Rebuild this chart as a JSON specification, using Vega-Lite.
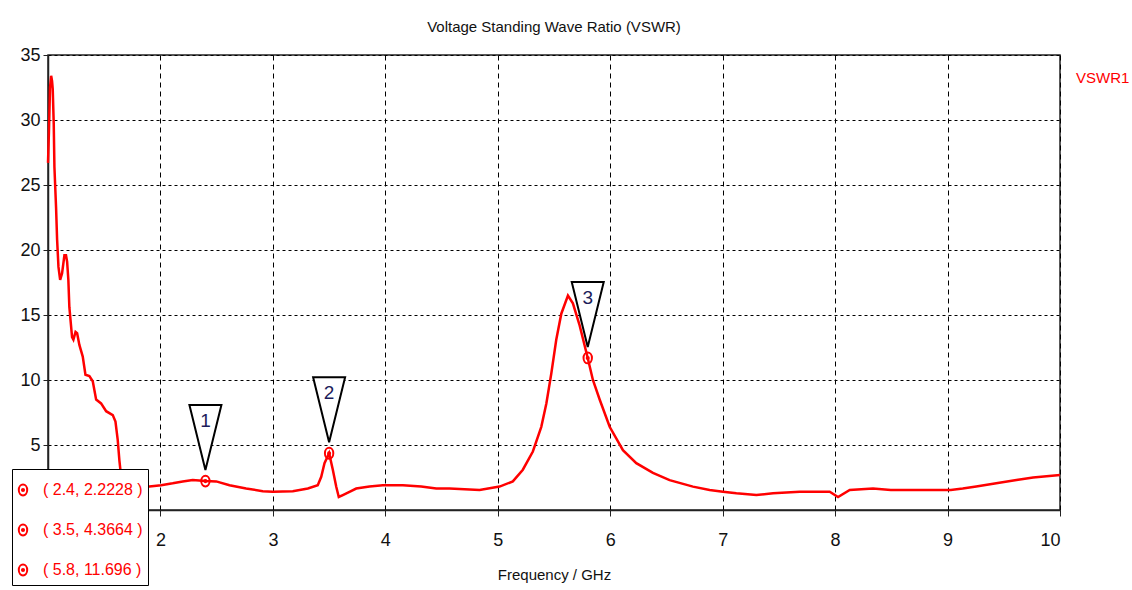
{
  "$schema": "https://vega.github.io/schema/vega-lite/v6.json",
  "width": 1012,
  "height": 455,
  "autosize": {"type": "none"},
  "padding": {"left": 48, "top": 55, "right": 72, "bottom": 80},
  "background": "white",
  "title": {
    "text": "Voltage Standing Wave Ratio (VSWR)",
    "anchor": "middle",
    "font": "Liberation Sans",
    "fontSize": 15,
    "fontWeight": "normal",
    "color": "#111111",
    "offset": 11
  },
  "config": {
    "view": {"stroke": "#222222", "strokeWidth": 1.5},
    "axis": {
      "labelFont": "Liberation Sans",
      "labelFontSize": 18,
      "labelColor": "#111111",
      "titleFont": "Liberation Sans",
      "titleFontSize": 15,
      "titleFontWeight": "normal",
      "titleColor": "#111111",
      "domainColor": "#222222",
      "domainWidth": 1.5,
      "tickColor": "#222222",
      "gridColor": "#000000",
      "gridOpacity": 1,
      "gridWidth": 1
    }
  },
  "datasets": {
    "curve": [
      {"f": 1.000, "v": 26.7}, {"f": 1.008, "v": 29.0}, {"f": 1.018, "v": 32.5}, {"f": 1.028, "v": 33.4},
      {"f": 1.036, "v": 33.0}, {"f": 1.042, "v": 32.4}, {"f": 1.051, "v": 29.7}, {"f": 1.057, "v": 26.4},
      {"f": 1.072, "v": 23.2}, {"f": 1.081, "v": 20.8}, {"f": 1.093, "v": 18.7}, {"f": 1.108, "v": 17.7},
      {"f": 1.125, "v": 18.2}, {"f": 1.146, "v": 19.6}, {"f": 1.160, "v": 19.6}, {"f": 1.170, "v": 19.1},
      {"f": 1.181, "v": 17.7}, {"f": 1.190, "v": 15.6}, {"f": 1.214, "v": 13.3}, {"f": 1.226, "v": 13.1},
      {"f": 1.245, "v": 13.7}, {"f": 1.259, "v": 13.6}, {"f": 1.279, "v": 12.7}, {"f": 1.309, "v": 11.8},
      {"f": 1.333, "v": 10.4}, {"f": 1.368, "v": 10.3}, {"f": 1.398, "v": 9.9}, {"f": 1.428, "v": 8.5},
      {"f": 1.472, "v": 8.2}, {"f": 1.517, "v": 7.6}, {"f": 1.576, "v": 7.3}, {"f": 1.600, "v": 6.8},
      {"f": 1.620, "v": 5.4}, {"f": 1.635, "v": 3.8}, {"f": 1.650, "v": 2.6}, {"f": 1.680, "v": 1.9},
      {"f": 1.750, "v": 1.75}, {"f": 1.850, "v": 1.8}, {"f": 1.902, "v": 1.8}, {"f": 2.006, "v": 1.9},
      {"f": 2.109, "v": 2.05}, {"f": 2.198, "v": 2.2}, {"f": 2.287, "v": 2.3}, {"f": 2.4, "v": 2.2228},
      {"f": 2.496, "v": 2.2}, {"f": 2.614, "v": 1.9}, {"f": 2.762, "v": 1.65}, {"f": 2.910, "v": 1.45},
      {"f": 2.999, "v": 1.4}, {"f": 3.177, "v": 1.45}, {"f": 3.311, "v": 1.65}, {"f": 3.399, "v": 1.9},
      {"f": 3.430, "v": 2.55}, {"f": 3.459, "v": 3.6}, {"f": 3.5, "v": 4.3664}, {"f": 3.533, "v": 3.1},
      {"f": 3.563, "v": 1.8}, {"f": 3.586, "v": 1.0}, {"f": 3.622, "v": 1.15}, {"f": 3.681, "v": 1.4},
      {"f": 3.741, "v": 1.65}, {"f": 3.859, "v": 1.8}, {"f": 3.978, "v": 1.9}, {"f": 4.156, "v": 1.9},
      {"f": 4.319, "v": 1.8}, {"f": 4.453, "v": 1.65}, {"f": 4.571, "v": 1.65}, {"f": 4.838, "v": 1.54},
      {"f": 5.016, "v": 1.8}, {"f": 5.134, "v": 2.2}, {"f": 5.223, "v": 3.1}, {"f": 5.312, "v": 4.5},
      {"f": 5.387, "v": 6.4}, {"f": 5.432, "v": 8.2}, {"f": 5.476, "v": 10.5}, {"f": 5.520, "v": 13.1},
      {"f": 5.565, "v": 15.1}, {"f": 5.624, "v": 16.5}, {"f": 5.668, "v": 15.9}, {"f": 5.728, "v": 14.2},
      {"f": 5.8, "v": 11.696}, {"f": 5.846, "v": 10.0}, {"f": 5.906, "v": 8.5}, {"f": 5.995, "v": 6.4},
      {"f": 6.113, "v": 4.6}, {"f": 6.232, "v": 3.6}, {"f": 6.380, "v": 2.85}, {"f": 6.528, "v": 2.3},
      {"f": 6.736, "v": 1.8}, {"f": 6.884, "v": 1.54}, {"f": 7.003, "v": 1.4}, {"f": 7.122, "v": 1.28},
      {"f": 7.300, "v": 1.15}, {"f": 7.448, "v": 1.28}, {"f": 7.685, "v": 1.4}, {"f": 7.952, "v": 1.4},
      {"f": 8.026, "v": 1.0}, {"f": 8.130, "v": 1.54}, {"f": 8.337, "v": 1.65}, {"f": 8.495, "v": 1.54},
      {"f": 9.029, "v": 1.54}, {"f": 9.135, "v": 1.65}, {"f": 9.255, "v": 1.8}, {"f": 9.433, "v": 2.05},
      {"f": 9.613, "v": 2.3}, {"f": 9.761, "v": 2.5}, {"f": 10.0, "v": 2.7}
    ],
    "markers": [
      {"f": 2.4, "v": 2.2228, "id": "1", "label": "( 2.4, 2.2228 )"},
      {"f": 3.5, "v": 4.3664, "id": "2", "label": "( 3.5, 4.3664 )"},
      {"f": 5.8, "v": 11.696, "id": "3", "label": "( 5.8, 11.696 )"}
    ]
  },
  "layer": [
    {
      "data": {"name": "curve"},
      "mark": {"type": "line", "strokeWidth": 2.5, "interpolate": "linear"},
      "encoding": {
        "x": {
          "field": "f", "type": "quantitative",
          "scale": {"domain": [1, 10], "nice": false, "zero": false},
          "axis": {
            "values": [2, 3, 4, 5, 6, 7, 8, 9, 10],
            "format": "d",
            "grid": true,
            "gridDash": [5, 4],
            "tickSize": 6,
            "labelPadding": 15,
            "title": "Frequency / GHz",
            "titlePadding": 18
          }
        },
        "y": {
          "field": "v", "type": "quantitative",
          "scale": {"domain": [0, 35], "nice": false},
          "axis": {
            "values": [5, 10, 15, 20, 25, 30, 35],
            "format": "d",
            "grid": true,
            "gridDash": [3, 3],
            "tickSize": 5,
            "labelPadding": 3,
            "title": null
          }
        },
        "color": {
          "datum": "VSWR1", "type": "nominal",
          "scale": {"domain": ["VSWR1"], "range": ["#ff0000"]},
          "legend": {
            "orient": "none", "legendX": 1013, "legendY": 15, "title": null,
            "symbolOpacity": 0, "symbolSize": 0, "labelOffset": 0, "padding": 0,
            "labelColor": "#ff0000",
            "labelFont": "Liberation Sans",
            "labelFontSize": 15
          }
        }
      }
    },
    {
      "data": {"name": "markers"},
      "mark": {"type": "point", "filled": false, "stroke": "#ff0000", "strokeWidth": 2, "size": 900, "opacity": 1},
      "encoding": {
        "x": {"field": "f", "type": "quantitative"},
        "y": {"field": "v", "type": "quantitative"},
        "shape": {
          "field": "label", "type": "nominal",
          "scale": {"range": [
            "M -0.28 0 A 0.28 0.36 0 1 0 0.28 0 A 0.28 0.36 0 1 0 -0.28 0 Z M -0.07 0 A 0.07 0.07 0 1 0 0.07 0 A 0.07 0.07 0 1 0 -0.07 0 Z",
            "M -0.28 0 A 0.28 0.36 0 1 0 0.28 0 A 0.28 0.36 0 1 0 -0.28 0 Z M -0.07 0 A 0.07 0.07 0 1 0 0.07 0 A 0.07 0.07 0 1 0 -0.07 0 Z",
            "M -0.28 0 A 0.28 0.36 0 1 0 0.28 0 A 0.28 0.36 0 1 0 -0.28 0 Z M -0.07 0 A 0.07 0.07 0 1 0 0.07 0 A 0.07 0.07 0 1 0 -0.07 0 Z"
          ]},
          "legend": {
            "orient": "none", "legendX": -36, "legendY": 414, "title": null,
            "strokeColor": "#000000", "fillColor": "#ffffff", "padding": 5,
            "symbolSize": 900, "symbolStrokeColor": "#ff0000", "symbolFillColor": "transparent",
            "symbolStrokeWidth": 2, "symbolOffset": -10, "labelOffset": 4, "rowPadding": 14,
            "labelColor": "#ff0000",
            "labelFont": "Liberation Sans",
            "labelFontSize": 16,
            "encode": {"legend": {"update": {"strokeWidth": {"value": 2}}}}
          }
        }
      }
    },
    {
      "data": {"name": "markers"},
      "mark": {
        "type": "point", "filled": true, "fill": "#ffffff", "fillOpacity": 1,
        "stroke": "#000000", "strokeWidth": 2, "strokeOpacity": 1, "size": 1024,
        "shape": "M -1 -4.75 L 1 -4.75 L 0 -0.69 Z"
      },
      "encoding": {
        "x": {"field": "f", "type": "quantitative"},
        "y": {"field": "v", "type": "quantitative"}
      }
    },
    {
      "data": {"name": "markers"},
      "mark": {
        "type": "text", "dy": -60, "fontSize": 19, "color": "#1c1c5a",
        "font": "Liberation Sans",
        "baseline": "middle", "align": "center"
      },
      "encoding": {
        "x": {"field": "f", "type": "quantitative"},
        "y": {"field": "v", "type": "quantitative"},
        "text": {"field": "id", "type": "nominal"}
      }
    }
  ]
}
